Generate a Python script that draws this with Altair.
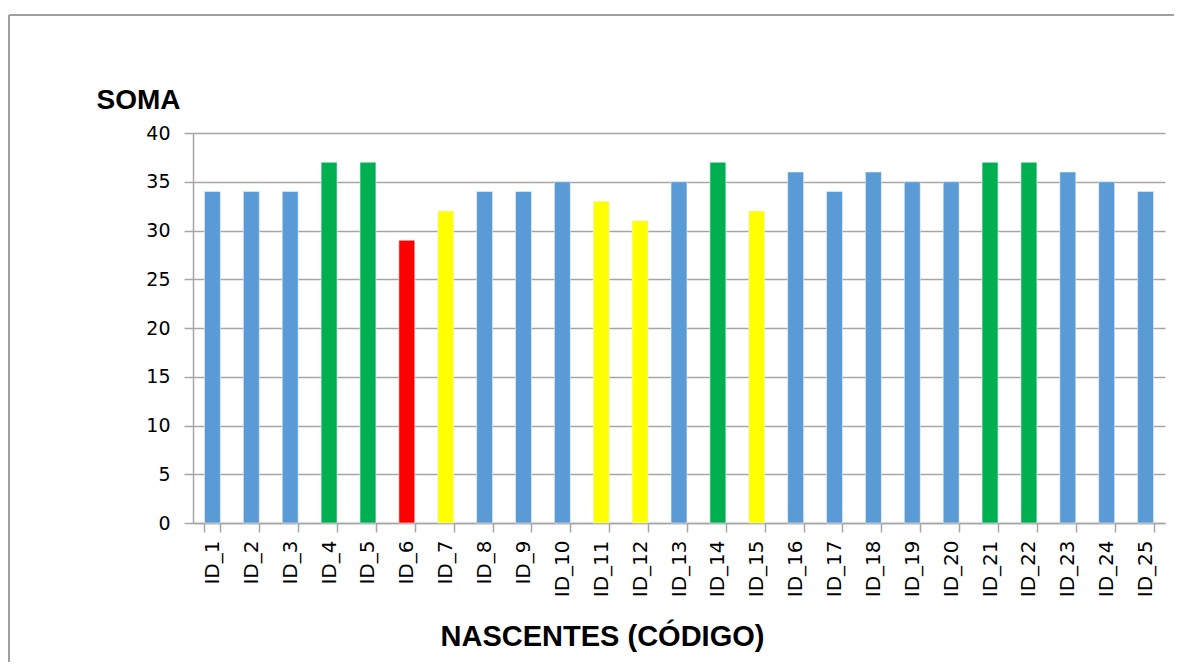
import altair as alt
import pandas as pd

ids = ["ID_1", "ID_2", "ID_3", "ID_4", "ID_5", "ID_6", "ID_7", "ID_8", "ID_9", "ID_10",
       "ID_11", "ID_12", "ID_13", "ID_14", "ID_15", "ID_16", "ID_17", "ID_18", "ID_19", "ID_20",
       "ID_21", "ID_22", "ID_23", "ID_24", "ID_25"]
soma = [34, 34, 34, 37, 37, 29, 32, 34, 34, 35, 33, 31, 35, 37, 32, 36, 34, 36, 35, 35, 37, 37, 36, 35, 34]
classe = ["azul", "azul", "azul", "verde", "verde", "vermelho", "amarelo", "azul", "azul", "azul",
          "amarelo", "amarelo", "azul", "verde", "amarelo", "azul", "azul", "azul", "azul", "azul",
          "verde", "verde", "azul", "azul", "azul"]
y_ticks = [0, 5, 10, 15, 20, 25, 30, 35, 40]

cores_dom = ["azul", "verde", "vermelho", "amarelo"]
cores_rng = ["#5b9bd5", "#00b050", "#ff0000", "#ffff00"]

df = pd.DataFrame({"id": ids, "soma": soma, "classe": classe})

GRAY = "#a6a6a6"

bars = alt.Chart(df).mark_bar(stroke="#e8f0fa", strokeWidth=0.6).encode(
    x=alt.X("id:N", sort=None,
            scale=alt.Scale(paddingInner=0.59, paddingOuter=0.295),
            axis=alt.Axis(title="NASCENTES (CÓDIGO)", labelAngle=-90, labelAlign="right",
                          labelBaseline="middle", labelFont="DejaVu Sans", labelFontSize=20,
                          labelColor="#000000", labelPadding=8, tickBand="extent",
                          tickSize=9, tickColor=GRAY, tickWidth=1.5,
                          domainColor=GRAY, domainWidth=1.5,
                          titleFont="Liberation Sans", titleFontWeight="bold",
                          titleFontSize=29, titleColor="#000000",
                          titleX=409, titleY=113, titleAlign="center",
                          titleBaseline="middle", titleAnchor="start")),
    y=alt.Y("soma:Q",
            scale=alt.Scale(domain=[0, 40], nice=False),
            axis=alt.Axis(title="SOMA", values=y_ticks, grid=True, gridColor=GRAY,
                          gridWidth=1.5, tickSize=9, tickColor=GRAY, tickWidth=1.5,
                          domainColor=GRAY, domainWidth=1.5,
                          labelFont="DejaVu Sans", labelFontSize=19, labelColor="#000000",
                          labelPadding=14,
                          titleAngle=0, titleX=-97, titleY=-33, titleAlign="left",
                          titleBaseline="middle", titleFont="Liberation Sans",
                          titleFontWeight="bold", titleFontSize=28, titleColor="#000000")),
    color=alt.Color("classe:N", scale=alt.Scale(domain=cores_dom, range=cores_rng), legend=None),
)

one = pd.DataFrame({"f": [0]})
frame_top = alt.Chart(one).mark_rule(stroke="#a0a0a0", strokeWidth=2).encode(
    x=alt.value(-184), x2=alt.value(1000), y=alt.value(-118)
)
frame_left = alt.Chart(one).mark_rule(stroke="#a0a0a0", strokeWidth=2).encode(
    x=alt.value(-184), y=alt.value(-118), y2=alt.value(700)
)

chart = alt.layer(bars, frame_top, frame_left).properties(
    width=972, height=390,
    autosize=alt.AutoSizeParams(type="none"),
    padding={"left": 185, "top": 125, "right": 9, "bottom": 139},
).configure_view(strokeWidth=0)

chart.save("out.html", embed_options={"renderer": "svg", "actions": False})
